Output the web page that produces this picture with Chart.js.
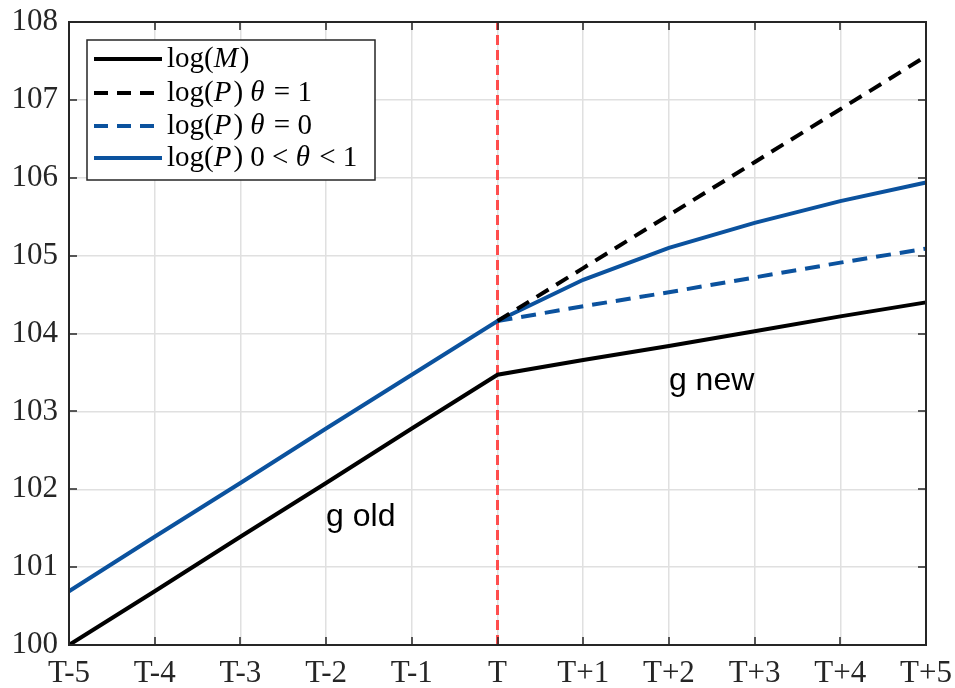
<!DOCTYPE html>
<html>
<head>
<meta charset="utf-8">
<script src="https://cdn.jsdelivr.net/npm/chart.js@4.4.1/dist/chart.umd.min.js"></script>
<style>
  html, body { margin: 0; padding: 0; background: #fff; }
  #chart { display: block; }
</style>
</head>
<body>
<canvas id="chart" width="955" height="688"></canvas>
<script>
// periods around the shock at T
const periods = ['T-5', 'T-4', 'T-3', 'T-2', 'T-1', 'T', 'T+1', 'T+2', 'T+3', 'T+4', 'T+5'];

// log money, old growth then new growth
const logM = [100, 100.69, 101.39, 102.08, 102.78, 103.47, 103.66, 103.84, 104.03, 104.22, 104.40];
// log prices after T, for the three cases
const logPTheta1 = [null, null, null, null, null, 104.16, 104.84, 105.52, 106.20, 106.88, 107.56];
const logPTheta0 = [null, null, null, null, null, 104.16, 104.35, 104.53, 104.72, 104.91, 105.09];
const logPMid = [100.69, 101.39, 102.08, 102.78, 103.47, 104.16, 104.69, 105.10, 105.42, 105.70, 105.94];

// vertical marker at the shock
const shockPeriod = 'T';
const shockRange = [100, 108];

// y axis
const yMin = 100;
const yMax = 108;
const yStep = 1;

// text notes (x as period index, y in data units)
const noteTexts = ['g old', 'g new'];
const noteX = [3, 7];
const noteY = [101.64, 103.39];

const BLUE = '#0b529e';
const AXIS = '#262626';
const SERIF = '"Liberation Serif", "DejaVu Serif", serif';

// legend entries: pieces of [text, italic]
const legendItems = [
    { color: '#000', dash: [], parts: [['log(', false], ['M', true], [')', false]] },
    { color: '#000', dash: [14, 9], parts: [['log(', false], ['P', true], [') ', false], ['θ', true], [' = 1', false]] },
    { color: BLUE, dash: [14, 9], parts: [['log(', false], ['P', true], [') ', false], ['θ', true], [' = 0', false]] },
    { color: BLUE, dash: [], parts: [['log(', false], ['P', true], [') 0 < ', false], ['θ', true], [' < 1', false]] }
];

// box, inner ticks, notes and legend
const decorations = {
    id: 'decorations',
    beforeDatasetsDraw(chart) {
        const ctx = chart.ctx;
        const xs = chart.scales.x;
        const ys = chart.scales.y;
        // notes
        ctx.save();
        ctx.fillStyle = '#000';
        ctx.font = '32px "Liberation Sans", Arial, sans-serif';
        ctx.textAlign = 'left';
        ctx.textBaseline = 'middle';
        for (let i = 0; i < noteTexts.length; i++) {
            ctx.fillText(noteTexts[i], xs.getPixelForValue(noteX[i]), ys.getPixelForValue(noteY[i]));
        }
        ctx.restore();
    },
    afterDraw(chart) {
        const ctx = chart.ctx;
        const a = chart.chartArea;
        const xs = chart.scales.x;
        const ys = chart.scales.y;
        ctx.save();
        // box
        ctx.strokeStyle = AXIS;
        ctx.lineWidth = 2;
        ctx.strokeRect(a.left, a.top, a.right - a.left, a.bottom - a.top);
        // inner ticks
        ctx.lineWidth = 1.5;
        ctx.beginPath();
        for (let i = 0; i < xs.ticks.length; i++) {
            const px = Math.round(xs.getPixelForTick(i));
            ctx.moveTo(px, a.bottom); ctx.lineTo(px, a.bottom - 8);
            ctx.moveTo(px, a.top); ctx.lineTo(px, a.top + 8);
        }
        for (let i = 0; i < ys.ticks.length; i++) {
            const py = Math.round(ys.getPixelForTick(i));
            ctx.moveTo(a.left, py); ctx.lineTo(a.left + 8, py);
            ctx.moveTo(a.right, py); ctx.lineTo(a.right - 8, py);
        }
        ctx.stroke();

        // legend
        const bx = 87, by = 40, bw = 288, bh = 140;
        ctx.fillStyle = '#fff';
        ctx.fillRect(bx, by, bw, bh);
        ctx.strokeStyle = AXIS;
        ctx.lineWidth = 1.5;
        ctx.strokeRect(bx, by, bw, bh);
        const rows = [59, 93, 126, 158];
        legendItems.forEach((item, i) => {
            const y = rows[i];
            ctx.strokeStyle = item.color;
            ctx.lineWidth = 4;
            ctx.setLineDash(item.dash);
            ctx.beginPath();
            ctx.moveTo(94, y);
            ctx.lineTo(162, y);
            ctx.stroke();
            ctx.setLineDash([]);
            let x = 167;
            ctx.fillStyle = '#000';
            ctx.textBaseline = 'middle';
            ctx.textAlign = 'left';
            item.parts.forEach(([t, it]) => {
                ctx.font = (it ? 'italic ' : '') + '29px ' + SERIF;
                ctx.fillText(t, x, y);
                x += ctx.measureText(t).width + (it ? 2 : 0);
            });
        });
        ctx.restore();
    }
};

new Chart(document.getElementById('chart'), {
    type: 'line',
    data: {
        labels: periods,
        datasets: [
            { label: 'log(M)', data: logM, borderColor: '#000', borderWidth: 4 },
            { label: 'log(P) θ=1', data: logPTheta1, borderColor: '#000', borderWidth: 4, borderDash: [14, 9] },
            { label: 'log(P) θ=0', data: logPTheta0, borderColor: BLUE, borderWidth: 4, borderDash: [15, 9] },
            { label: 'log(P) 0<θ<1', data: logPMid, borderColor: BLUE, borderWidth: 4 },
            {
                label: 'T',
                data: shockRange.map(v => ({ x: shockPeriod, y: v })),
                borderColor: '#ff4d4d',
                borderWidth: 3,
                borderDash: [10, 5]
            }
        ]
    },
    options: {
        responsive: false,
        animation: false,
        devicePixelRatio: 1,
        elements: { point: { radius: 0 }, line: { tension: 0, fill: false, borderCapStyle: 'butt' } },
        layout: { padding: { top: 22, right: 29, left: 0, bottom: 0 } },
        plugins: { legend: { display: false }, tooltip: { enabled: false } },
        scales: {
            x: {
                type: 'category',
                offset: false,
                grid: { color: '#e0e0e0', lineWidth: 1.5, drawTicks: false },
                border: { display: true, color: AXIS, width: 2 },
                ticks: { color: AXIS, font: { family: SERIF, size: 31 }, padding: 10, maxRotation: 0, autoSkip: false },
                afterFit(scale) {
                    scale.height = 43;
                    scale.paddingLeft = 0;
                    scale.paddingRight = 0;
                }
            },
            y: {
                min: yMin,
                max: yMax,
                grid: { color: '#e0e0e0', lineWidth: 1.5, drawTicks: false },
                border: { display: true, color: AXIS, width: 2 },
                ticks: { stepSize: yStep, color: AXIS, font: { family: SERIF, size: 31 }, padding: 11 },
                afterFit(scale) {
                    scale.width = 69;
                    scale.paddingTop = 0;
                    scale.paddingBottom = 0;
                }
            }
        }
    },
    plugins: [decorations]
});
</script>
</body>
</html>
